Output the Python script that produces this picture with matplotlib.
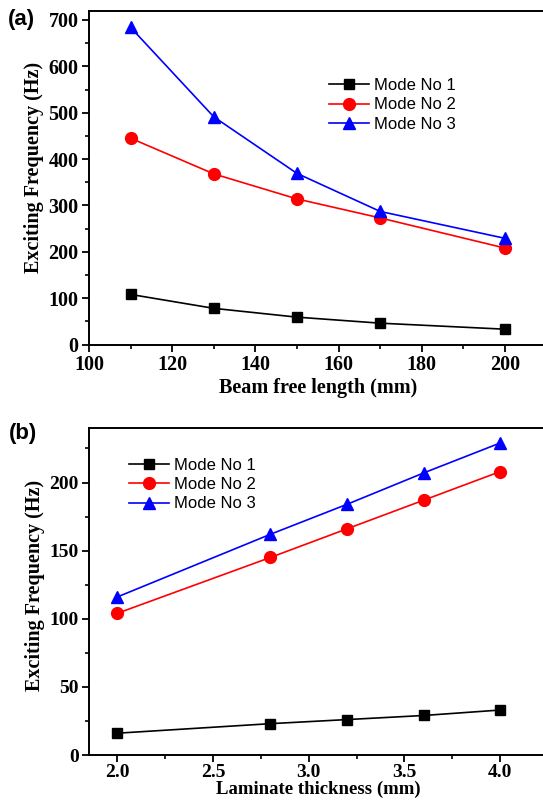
import matplotlib
matplotlib.use('Agg')
import matplotlib.pyplot as plt
from matplotlib.ticker import MultipleLocator

# panel (a): frequency vs beam free length
length_mm = [110, 130, 150, 170, 200]
mode1_a = [108, 78, 59, 46, 33]
mode2_a = [445, 368, 314, 273, 208]
mode3_a = [684, 491, 369, 287, 229]

# panel (b): frequency vs laminate thickness
thickness_mm = [2.0, 2.8, 3.2, 3.6, 4.0]
mode1_b = [16, 23, 26, 29, 33]
mode2_b = [104, 145, 166, 187, 208]
mode3_b = [116, 162, 184, 207, 229]

labels = ['Mode No 1', 'Mode No 2', 'Mode No 3']
colors = ['black', '#ff0000', '#0000ff']
markers = ['s', 'o', '^']
msizes = [7, 8.5, 8.5]

W, H = 543, 806
fig = plt.figure(figsize=(W / 100, H / 100), dpi=100)

serif = {'family': 'Liberation Serif', 'weight': 'bold', 'size': 14.5}


def px(x0, y0, x1, y1):
    # left, top, right, bottom in pixels -> axes rect
    return [x0 / W, 1 - y1 / H, (x1 - x0) / W, (y1 - y0) / H]


def style(ax, size=14.5):
    for s in ax.spines.values():
        s.set_linewidth(1.4)
    ax.tick_params(which='major', direction='out', length=5, width=1.3, pad=2.5)
    ax.tick_params(which='minor', direction='out', length=3, width=1.2)
    for lab in ax.get_xticklabels() + ax.get_yticklabels():
        lab.set_fontfamily('Liberation Serif')
        lab.set_fontweight('bold')
        lab.set_fontsize(size)


def draw(ax, x, series):
    for ys, lab, c, m, ms in zip(series, labels, colors, markers, msizes):
        ax.plot(x, ys, color=c, marker=m, markersize=ms, linewidth=1.2,
                label=lab, clip_on=False)


ax1 = fig.add_axes(px(89, 10.7, 546.6, 344.5))
draw(ax1, length_mm, [mode1_a, mode2_a, mode3_a])
ax1.set_xlim(100, 210)
ax1.set_ylim(0, 720)
ax1.xaxis.set_major_locator(MultipleLocator(20))
ax1.xaxis.set_minor_locator(MultipleLocator(10))
ax1.yaxis.set_major_locator(MultipleLocator(100))
ax1.yaxis.set_minor_locator(MultipleLocator(50))
style(ax1)
ax1.set_xlabel('Beam free length (mm)', fontdict=serif, labelpad=2)
ax1.set_ylabel('Exciting Frequency (Hz)', fontdict=serif, labelpad=3)
ax1.yaxis.label.set_y(0.53)
ax1.legend(loc='center left', bbox_to_anchor=(329 / W, 1 - 105 / H),
           bbox_transform=fig.transFigure, frameon=False, borderpad=0,
           borderaxespad=0, handlelength=2.4, handletextpad=0.3,
           labelspacing=0.25, prop={'family': 'Liberation Sans', 'size': 12})

ax2 = fig.add_axes(px(89, 428, 548, 755))
draw(ax2, thickness_mm, [mode1_b, mode2_b, mode3_b])
ax2.set_xlim(1.852, 4.25)
ax2.set_ylim(0, 240)
ax2.xaxis.set_major_locator(MultipleLocator(0.5))
ax2.xaxis.set_minor_locator(MultipleLocator(0.25))
ax2.yaxis.set_major_locator(MultipleLocator(50))
ax2.yaxis.set_minor_locator(MultipleLocator(25))
style(ax2, size=14)
ax2.tick_params(axis='x', which='major', pad=1.5)
ax2.set_xlabel('Laminate thickness (mm)', fontdict=dict(serif, size=13.5),
               labelpad=0)
ax2.set_ylabel('Exciting Frequency (Hz)', fontdict=serif, labelpad=3)
ax2.yaxis.label.set_y(0.52)
ax2.legend(loc='center left', bbox_to_anchor=(129 / W, 1 - 484.7 / H),
           bbox_transform=fig.transFigure, frameon=False, borderpad=0,
           borderaxespad=0, handlelength=2.4, handletextpad=0.3,
           labelspacing=0.25, prop={'family': 'Liberation Sans', 'size': 12})

fig.text(8 / W, 1 - 20 / H, '(a)', family='Liberation Sans', weight='bold',
         size=16, va='center', ha='left')
fig.text(9 / W, 1 - 433 / H, '(b)', family='Liberation Sans', weight='bold',
         size=16, va='center', ha='left')

fig.savefig('out.png', dpi=100)
